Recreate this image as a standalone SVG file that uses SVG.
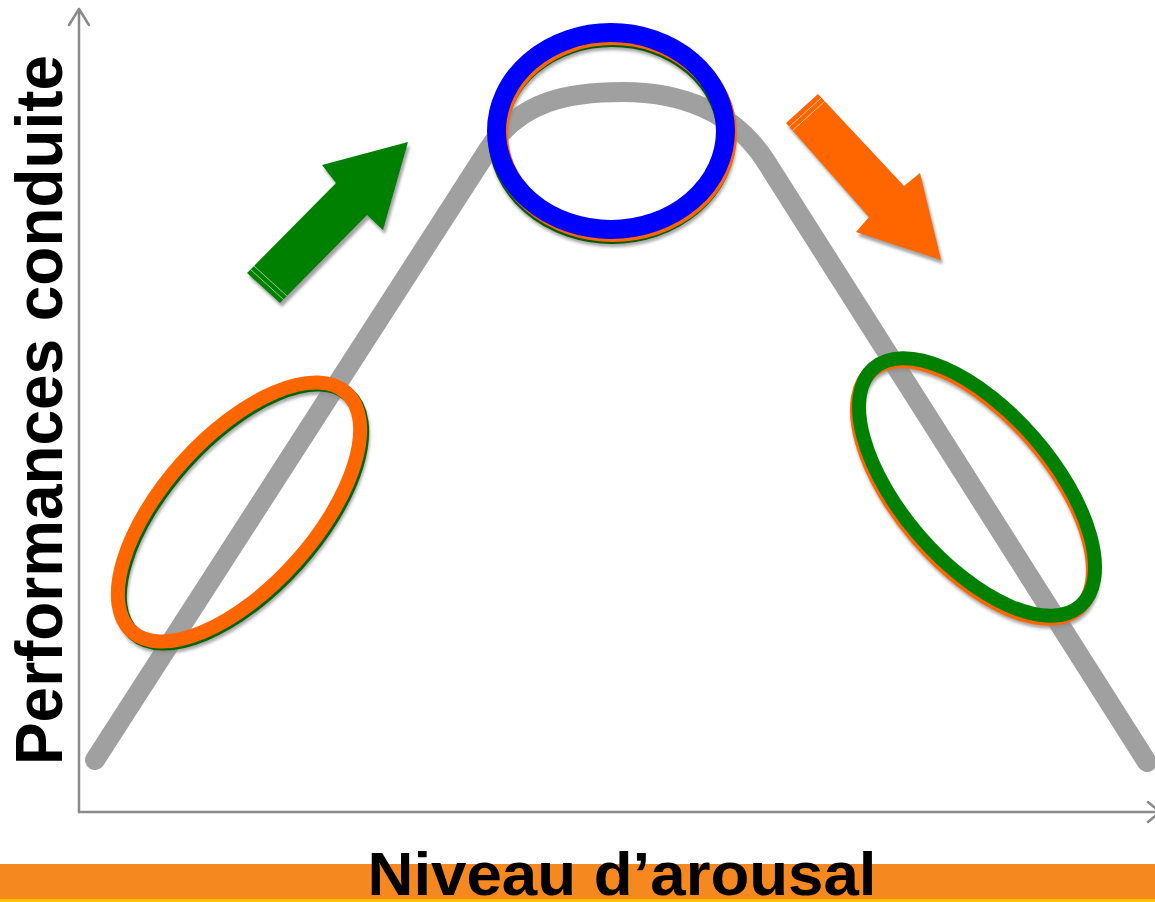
<svg xmlns="http://www.w3.org/2000/svg" width="1155" height="902" viewBox="0 0 1155 902">
  <style>
    .axis { stroke: #8a8a8a; stroke-width: 2.5; fill: none; stroke-linecap: round; stroke-linejoin: round; }
    .curve { stroke: #a0a0a0; stroke-width: 20; fill: none; stroke-linecap: round; stroke-linejoin: round; }
    .shade { fill: none; stroke: #8c8c8c; opacity: 0.75; filter: url(#soft); }
    .shade-fill { fill: #8c8c8c; opacity: 0.8; filter: url(#soft); }
    .stripe { stroke: #ffffff; stroke-width: 1; opacity: 0.6; }
    .label { font-family: "Liberation Sans", Arial, sans-serif; font-weight: bold; fill: #000; }
  </style>
  <defs>
    <filter id="soft" x="-10%" y="-10%" width="120%" height="120%">
      <feGaussianBlur stdDeviation="1.5"/>
    </filter>
  </defs>

  <rect width="1155" height="902" fill="#ffffff"/>

  <!-- axes -->
  <g id="axes">
    <line class="axis" x1="79" y1="9" x2="79" y2="812"/>
    <polyline class="axis" points="69,25 79,9 89,25"/>
    <line class="axis" x1="79" y1="812" x2="1156" y2="812"/>
    <polyline class="axis" points="1148,802 1160,812 1148,822"/>
  </g>

  <!-- inverted-U performance curve -->
  <g id="connectors">
    <path class="curve" d="M95,760 L488,150 C520,100 570,92 623,92 C680,92 733,111 765,160 L1147,762"/>
  </g>

  <!-- low-arousal zone -->
  <g id="zone-low">
    <ellipse class="shade" cx="242" cy="517" rx="160.5" ry="75.5" stroke-width="14" transform="rotate(-48 242 517)"/>
    <ellipse cx="241" cy="514" rx="160.5" ry="75.5" fill="none" stroke="#006400" stroke-width="14" transform="rotate(-48 241 514)"/>
    <ellipse cx="239" cy="512" rx="160.5" ry="75.5" fill="none" stroke="#ff6600" stroke-width="14" transform="rotate(-48 239 512)"/>
  </g>

  <!-- optimal zone -->
  <g id="zone-optimal">
    <ellipse class="shade" cx="613" cy="139" rx="114.5" ry="98.5" stroke-width="19"/>
    <ellipse cx="612" cy="136" rx="114.5" ry="98.5" fill="none" stroke="#005a00" stroke-width="19"/>
    <ellipse cx="613" cy="134" rx="114.5" ry="98.5" fill="none" stroke="#ff6600" stroke-width="19"/>
    <ellipse cx="611" cy="131" rx="114.5" ry="98.5" fill="none" stroke="#0000ff" stroke-width="19"/>
  </g>

  <!-- high-arousal zone -->
  <g id="zone-high">
    <ellipse class="shade" cx="976" cy="493" rx="157.5" ry="75.5" stroke-width="14" transform="rotate(49 976 493)"/>
    <ellipse cx="975" cy="490" rx="157.5" ry="75.5" fill="none" stroke="#ff6600" stroke-width="14" transform="rotate(49 975 490)"/>
    <ellipse cx="977" cy="487" rx="157.5" ry="75.5" fill="none" stroke="#008000" stroke-width="14" transform="rotate(49 977 487)"/>
  </g>

  <!-- rising arrow -->
  <g id="arrow-up">
    <polygon class="shade-fill" transform="translate(2,4)" points="247,273 336,183 322,165 408,142 383,230 367,215 280,303"/>
    <polygon fill="#008000" points="247,273 336,183 322,165 408,142 383,230 367,215 280,303"/>
    <line class="stripe" x1="250.5" y1="269.5" x2="283.5" y2="299.5"/>
    <line class="stripe" x1="254" y1="266" x2="287" y2="296"/>
  </g>

  <!-- falling arrow -->
  <g id="arrow-down">
    <polygon class="shade-fill" transform="translate(2,4)" points="818,94 904,186 920,173 941,260 856,232 869,217 786,123"/>
    <polygon fill="#ff6600" points="818,94 904,186 920,173 941,260 856,232 869,217 786,123"/>
    <line class="stripe" x1="821.4" y1="97.7" x2="789.4" y2="126.7"/>
    <line class="stripe" x1="824.8" y1="101.3" x2="792.8" y2="130.3"/>
  </g>

  <!-- y-axis title -->
  <g id="y-title">
    <text class="label" font-size="66" text-anchor="middle" textLength="710" lengthAdjust="spacingAndGlyphs" transform="translate(62 410) rotate(-90)">Performances conduite</text>
  </g>

  <!-- x-axis title on band -->
  <g id="x-title">
    <rect x="0" y="864" width="1155" height="35" fill="#f5891f"/>
    <rect x="0" y="899" width="1155" height="3" fill="#ffc000"/>
    <text class="label" x="622" y="895" font-size="61" text-anchor="middle" textLength="509" lengthAdjust="spacingAndGlyphs">Niveau d’arousal</text>
  </g>
</svg>
